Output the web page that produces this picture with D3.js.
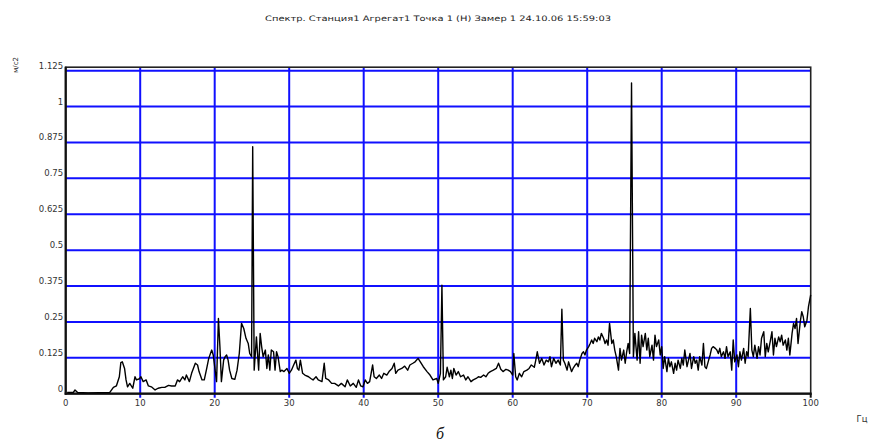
<!DOCTYPE html>
<html>
<head>
<meta charset="utf-8">
<title>Спектр</title>
<script src="https://d3js.org/d3.v7.min.js"></script>
<style>
  body { margin: 0; background: #fff; }
  text { font-family: "DejaVu Sans", sans-serif; fill: #333; }
</style>
</head>
<body>
<script>
// spectrum: frequency (Hz) and amplitude (m/s^2)
const freqHz = [
  0.2, 1.0, 1.25, 1.6, 3.0, 5.9, 6.4, 6.8, 7.2, 7.4, 7.6, 7.9, 8.1, 8.3, 8.6, 9.0, 9.3, 9.5, 9.9, 10.1,
  10.4, 10.8, 11.1, 11.5, 12.0, 12.4, 12.9, 13.3, 13.8, 14.2, 14.7, 15.0, 15.3, 15.7, 16.0, 16.2, 16.6, 16.9, 17.4, 17.7,
  17.9, 18.3, 18.6, 18.9, 19.2, 19.6, 19.8, 20.0, 20.25, 20.5, 20.7, 20.9, 21.2, 21.4, 21.6, 21.8, 22.0, 22.3, 22.7, 23.0,
  23.3, 23.6, 23.9, 24.2, 24.5, 24.7, 24.95, 25.1, 25.3, 25.6, 25.9, 26.1, 26.3, 26.5, 26.8, 27.0, 27.2, 27.4, 27.6, 27.9,
  28.1, 28.3, 28.5, 28.8, 29.0, 29.3, 29.7, 30.0, 30.3, 30.6, 30.9, 31.1, 31.3, 31.5, 31.8, 32.1, 32.6, 32.9, 33.2, 33.6,
  33.9, 34.4, 34.7, 34.9, 35.3, 35.7, 36.1, 36.6, 37.0, 37.5, 37.8, 38.2, 38.6, 39.0, 39.3, 39.6, 39.9, 40.2, 40.5, 40.8,
  41.2, 41.4, 41.7, 42.1, 42.4, 42.7, 43.1, 43.4, 43.8, 44.1, 44.3, 44.6, 45.1, 45.5, 45.9, 46.2, 46.6, 46.9, 47.3, 47.6,
  48.0, 48.5, 48.9, 49.3, 49.8, 50.0, 50.3, 50.5, 50.7, 51.0, 51.2, 51.5, 51.7, 51.9, 52.1, 52.4, 52.7, 53.0, 53.4, 53.7,
  54.0, 54.4, 54.7, 55.1, 55.4, 55.7, 56.1, 56.4, 56.7, 57.0, 57.4, 57.8, 58.1, 58.4, 58.7, 59.1, 59.4, 59.7, 60.0, 60.15,
  60.4, 60.6, 60.9, 61.2, 61.5, 61.9, 62.2, 62.5, 62.9, 63.1, 63.3, 63.6, 63.9, 64.2, 64.5, 64.8, 65.0, 65.2, 65.5, 65.8,
  66.1, 66.4, 66.6, 66.8, 67.0, 67.3, 67.5, 67.7, 67.9, 68.1, 68.4, 68.6, 68.8, 69.0, 69.3, 69.5, 69.7, 69.9, 70.2, 70.4,
  70.6, 70.8, 71.0, 71.3, 71.5, 71.7, 71.9, 72.2, 72.4, 72.6, 72.8, 73.0, 73.3, 73.5, 73.7, 73.9, 74.2, 74.4, 74.6, 74.9,
  75.1, 75.3, 75.5, 75.7, 75.95, 76.2, 76.4, 76.7, 76.9, 77.1, 77.3, 77.5, 77.8, 78.0, 78.2, 78.4, 78.7, 78.9, 79.1, 79.3,
  79.6, 79.8, 80.0, 80.2, 80.4, 80.7, 80.9, 81.1, 81.3, 81.6, 81.8, 82.0, 82.2, 82.5, 82.7, 82.9, 83.1, 83.4, 83.6, 83.8,
  84.0, 84.3, 84.5, 84.7, 84.9, 85.1, 85.4, 85.6, 85.8, 86.0, 86.3, 86.5, 86.7, 86.9, 87.2, 87.4, 87.6, 87.8, 88.0, 88.3,
  88.5, 88.7, 88.9, 89.2, 89.4, 89.6, 89.8, 90.1, 90.3, 90.5, 90.7, 91.0, 91.2, 91.4, 91.6, 91.9, 92.1, 92.3, 92.5, 92.8,
  93.0, 93.2, 93.4, 93.7, 93.9, 94.1, 94.3, 94.6, 94.8, 95.0, 95.2, 95.4, 95.7, 95.9, 96.1, 96.3, 96.6, 96.8, 97.0, 97.2,
  97.5, 97.7, 97.9, 98.1, 98.3, 98.6, 98.8, 99.0, 99.2, 99.5, 99.7, 100
];
const accel = [
  0.004, 0.004, 0.013, 0.004, 0.003, 0.004, 0.022, 0.027, 0.059, 0.108, 0.111, 0.088, 0.048, 0.024, 0.036, 0.019, 0.059, 0.048, 0.052, 0.059,
  0.042, 0.048, 0.027, 0.024, 0.013, 0.019, 0.022, 0.022, 0.029, 0.027, 0.027, 0.048, 0.042, 0.059, 0.048, 0.065, 0.042, 0.071, 0.106, 0.100,
  0.077, 0.048, 0.048, 0.085, 0.123, 0.152, 0.135, 0.094, 0.042, 0.262, 0.164, 0.042, 0.117, 0.129, 0.135, 0.117, 0.082, 0.053, 0.050, 0.082,
  0.140, 0.245, 0.227, 0.193, 0.175, 0.140, 0.129, 0.860, 0.082, 0.198, 0.082, 0.210, 0.164, 0.129, 0.152, 0.088, 0.135, 0.082, 0.152, 0.146,
  0.082, 0.146, 0.129, 0.077, 0.082, 0.077, 0.088, 0.071, 0.082, 0.100, 0.117, 0.088, 0.082, 0.117, 0.071, 0.065, 0.059, 0.053, 0.048, 0.059,
  0.048, 0.042, 0.106, 0.053, 0.048, 0.036, 0.036, 0.027, 0.036, 0.024, 0.048, 0.027, 0.036, 0.022, 0.048, 0.027, 0.024, 0.048, 0.036, 0.042,
  0.100, 0.059, 0.053, 0.065, 0.053, 0.071, 0.065, 0.077, 0.088, 0.106, 0.071, 0.082, 0.088, 0.096, 0.082, 0.100, 0.106, 0.111, 0.123, 0.111,
  0.094, 0.077, 0.065, 0.048, 0.053, 0.036, 0.071, 0.378, 0.048, 0.059, 0.092, 0.059, 0.082, 0.053, 0.088, 0.065, 0.077, 0.059, 0.065, 0.048,
  0.059, 0.042, 0.048, 0.053, 0.059, 0.057, 0.065, 0.059, 0.071, 0.077, 0.082, 0.088, 0.106, 0.085, 0.077, 0.085, 0.082, 0.077, 0.065, 0.140,
  0.059, 0.048, 0.071, 0.059, 0.077, 0.082, 0.088, 0.100, 0.092, 0.117, 0.146, 0.106, 0.123, 0.100, 0.117, 0.111, 0.129, 0.094, 0.123, 0.106,
  0.117, 0.100, 0.294, 0.117, 0.106, 0.082, 0.111, 0.094, 0.077, 0.088, 0.100, 0.106, 0.094, 0.117, 0.140, 0.146, 0.135, 0.152, 0.164, 0.175,
  0.187, 0.175, 0.193, 0.181, 0.198, 0.187, 0.210, 0.193, 0.175, 0.187, 0.169, 0.245, 0.175, 0.187, 0.152, 0.129, 0.082, 0.158, 0.117, 0.152,
  0.106, 0.146, 0.175, 0.140, 1.082, 0.129, 0.210, 0.117, 0.216, 0.106, 0.204, 0.164, 0.210, 0.152, 0.193, 0.129, 0.169, 0.117, 0.204, 0.164,
  0.187, 0.135, 0.164, 0.088, 0.129, 0.077, 0.123, 0.094, 0.111, 0.071, 0.106, 0.082, 0.117, 0.088, 0.123, 0.100, 0.152, 0.094, 0.117, 0.140,
  0.088, 0.129, 0.106, 0.117, 0.082, 0.129, 0.100, 0.175, 0.094, 0.088, 0.117, 0.135, 0.158, 0.164, 0.158, 0.152, 0.140, 0.158, 0.129, 0.146,
  0.123, 0.164, 0.129, 0.146, 0.082, 0.187, 0.111, 0.135, 0.094, 0.146, 0.117, 0.158, 0.106, 0.146, 0.129, 0.297, 0.152, 0.129, 0.169, 0.123,
  0.164, 0.135, 0.193, 0.216, 0.129, 0.175, 0.146, 0.187, 0.216, 0.135, 0.193, 0.164, 0.198, 0.181, 0.204, 0.169, 0.187, 0.152, 0.193, 0.135,
  0.210, 0.245, 0.227, 0.262, 0.175, 0.251, 0.286, 0.268, 0.233, 0.256, 0.303, 0.344
];
const xTicks = [0, 10, 20, 30, 40, 50, 60, 70, 80, 90, 100];
const yTicks = [0, 0.125, 0.25, 0.375, 0.5, 0.625, 0.75, 0.875, 1, 1.125];
const titleText = "Спектр. Станция1 Агрегат1 Точка  1 (Н) Замер  1 24.10.06 15:59:03";
const yLabel = "м/с2";
const xLabel = "Гц";
const caption = "б";

const width = 870, height = 441;
const plotLeft = 65.7, plotRight = 810.7, plotTop = 70.7, plotBottom = 393.7;

const svg = d3.select("body").append("svg")
  .attr("width", width)
  .attr("height", height);

const x = d3.scaleLinear().domain([0, 100]).range([plotLeft, plotRight]);
const y = d3.scaleLinear().domain([0, 1.125]).range([plotBottom, plotTop]);

// grid
svg.append("g")
  .selectAll("line")
  .data(yTicks.filter(d => d > 0))
  .join("line")
  .attr("x1", plotLeft).attr("x2", plotRight)
  .attr("y1", d => y(d)).attr("y2", d => y(d))
  .attr("stroke", "#1010ff").attr("stroke-width", 2);

svg.append("g")
  .selectAll("line")
  .data(xTicks.filter(d => d > 0 && d < 100))
  .join("line")
  .attr("x1", d => x(d)).attr("x2", d => x(d))
  .attr("y1", plotTop - 3.5).attr("y2", plotBottom + 4)
  .attr("stroke", "#1010ff").attr("stroke-width", 2);

// frame
svg.append("rect")
  .attr("x", plotLeft).attr("y", plotTop - 3.5)
  .attr("width", plotRight - plotLeft).attr("height", plotBottom - plotTop + 3.5)
  .attr("fill", "none").attr("stroke", "#222").attr("stroke-width", 1.6);
svg.append("line")
  .attr("x1", plotLeft).attr("x2", plotLeft).attr("y1", plotTop - 4).attr("y2", plotBottom + 1)
  .attr("stroke", "#111").attr("stroke-width", 2.2);
svg.append("line")
  .attr("x1", plotLeft - 1).attr("x2", plotRight + 1).attr("y1", plotBottom).attr("y2", plotBottom)
  .attr("stroke", "#111").attr("stroke-width", 2.2);
svg.append("line")
  .attr("x1", plotRight).attr("x2", plotRight).attr("y1", plotBottom).attr("y2", plotBottom + 4)
  .attr("stroke", "#111").attr("stroke-width", 2);

// spectrum line
const pts = freqHz.map((f, i) => [f, accel[i]]);
svg.append("path")
  .datum(pts)
  .attr("fill", "none")
  .attr("stroke", "#000")
  .attr("stroke-width", 1.4)
  .attr("stroke-linejoin", "round")
  .attr("d", d3.line().x(d => x(d[0])).y(d => y(d[1])));

// tick labels
svg.append("g")
  .selectAll("text")
  .data(yTicks)
  .join("text")
  .attr("x", plotLeft - 2.5)
  .attr("y", d => y(d) - 2)
  .attr("text-anchor", "end")
  .attr("font-size", 8.5)
  .text(d => d3.format("~g")(d));

svg.append("g")
  .selectAll("text")
  .data(xTicks)
  .join("text")
  .attr("x", d => x(d))
  .attr("y", plotBottom + 12.5)
  .attr("text-anchor", "middle")
  .attr("font-size", 8.5)
  .text(d => d);

// titles
svg.append("text")
  .attr("x", 438).attr("y", 21)
  .attr("text-anchor", "middle")
  .attr("font-size", 7.5)
  .attr("textLength", 346)
  .attr("lengthAdjust", "spacingAndGlyphs")
  .style("fill", "#222")
  .text(titleText);

svg.append("text")
  .attr("transform", "translate(18,65) rotate(-90)")
  .attr("text-anchor", "middle")
  .attr("font-size", 7)
  .style("fill", "#222")
  .text(yLabel);

svg.append("text")
  .attr("x", 862).attr("y", 422)
  .attr("text-anchor", "middle")
  .attr("font-size", 8.5)
  .text(xLabel);

svg.append("text")
  .attr("x", 440).attr("y", 439)
  .attr("text-anchor", "middle")
  .attr("font-size", 16)
  .attr("font-style", "italic")
  .style("font-family", "'Liberation Serif', serif")
  .style("fill", "#111")
  .text(caption);
</script>
</body>
</html>
